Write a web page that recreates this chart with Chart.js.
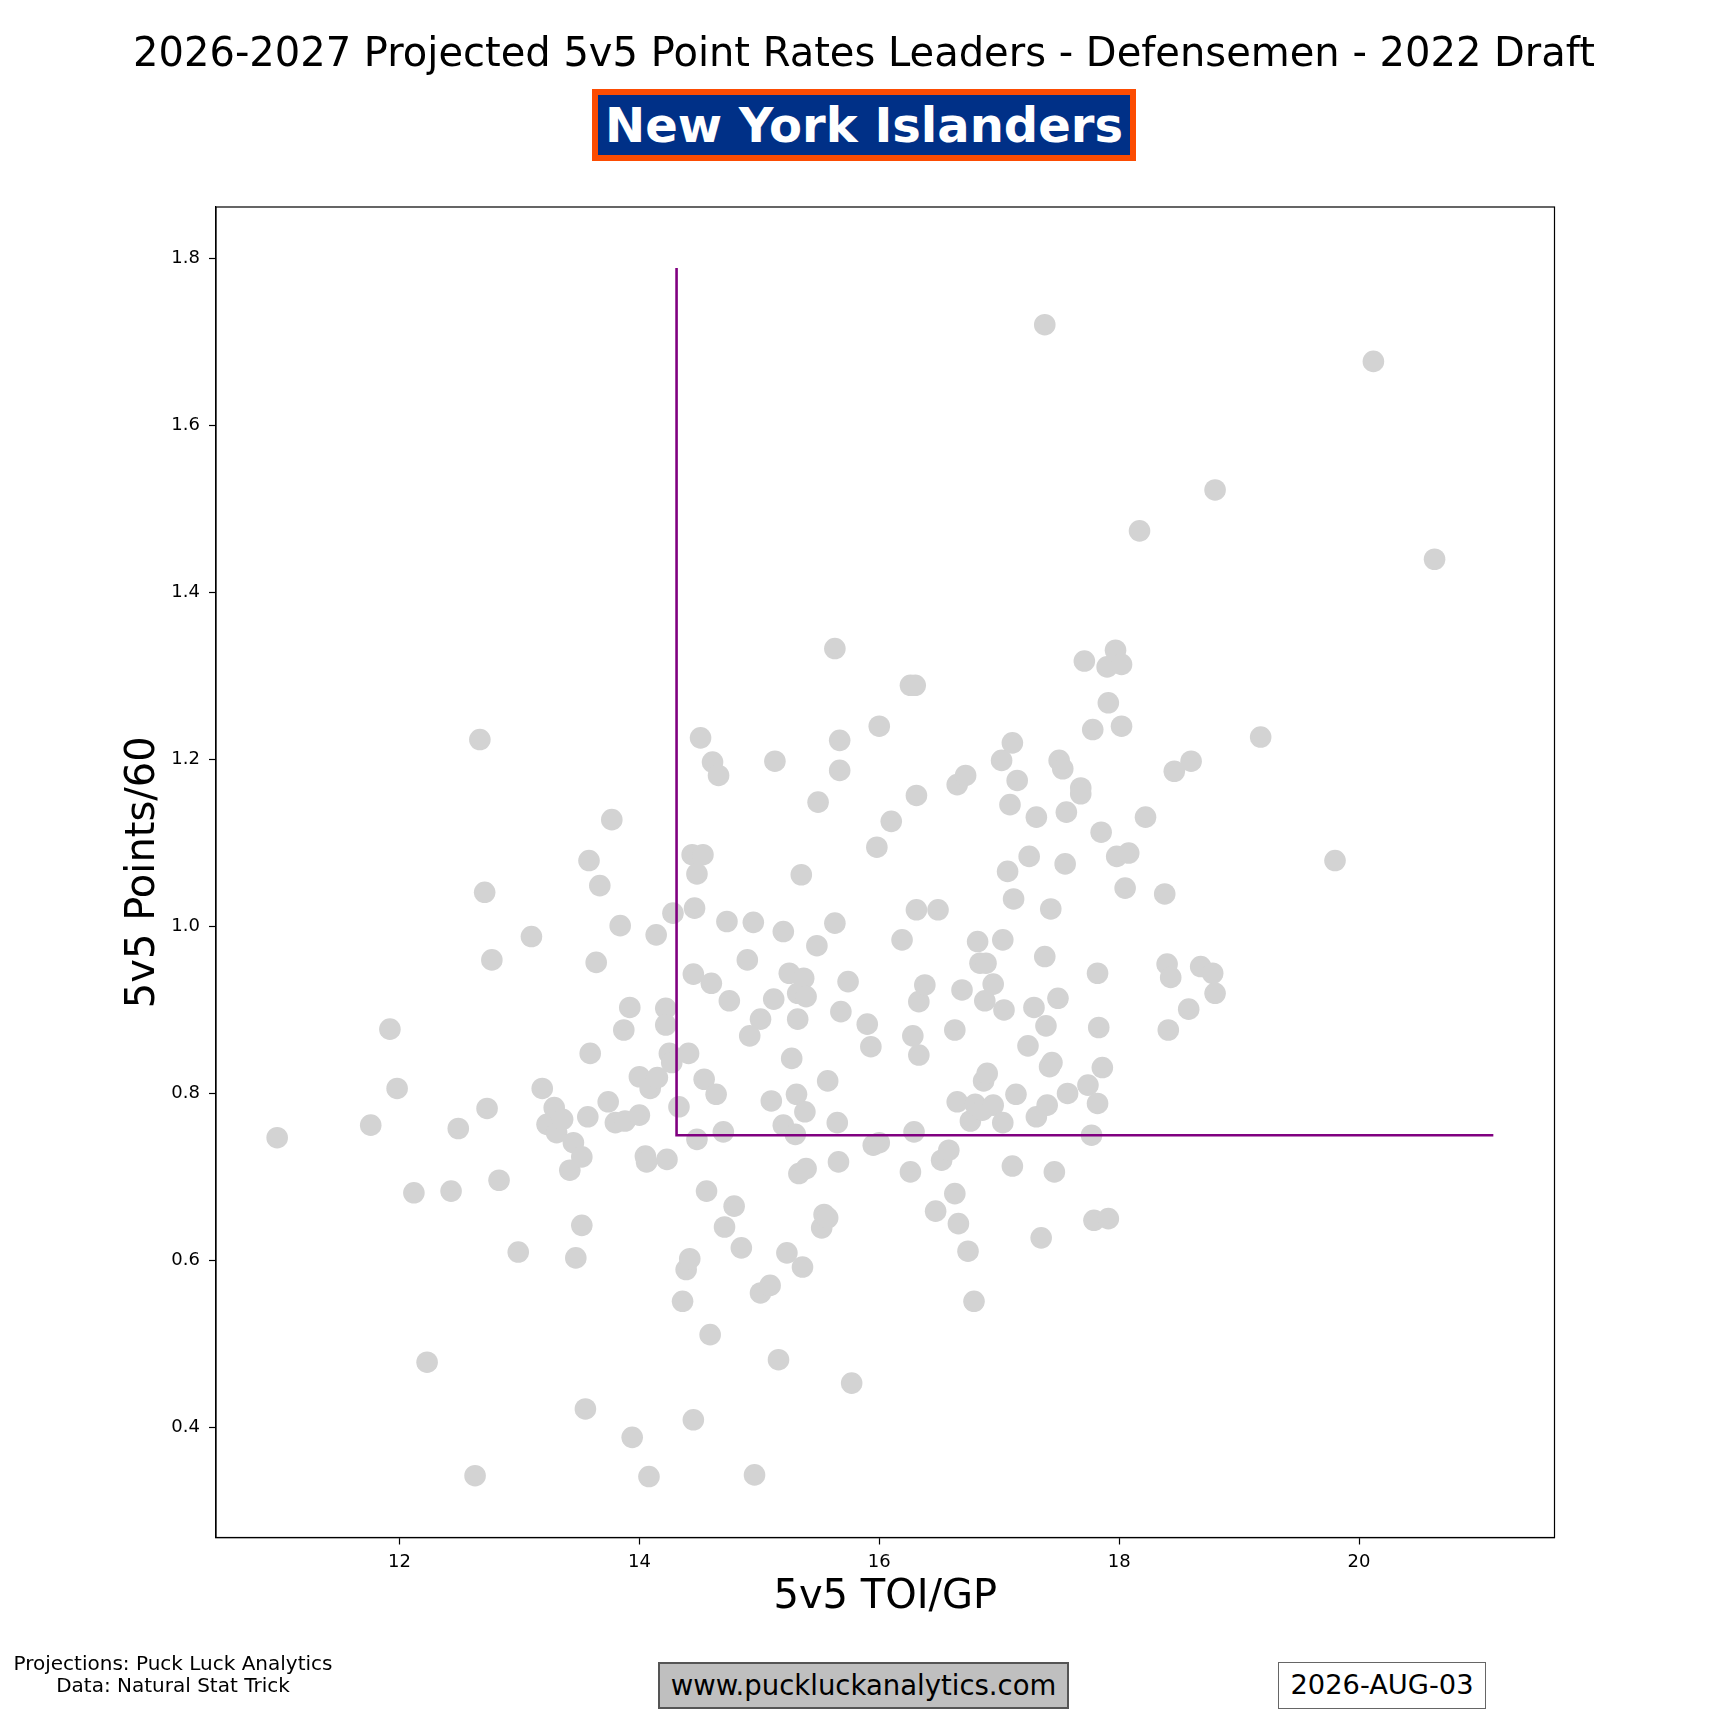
<!DOCTYPE html>
<html><head><meta charset="utf-8">
<script src="https://cdn.jsdelivr.net/npm/chart.js"></script>
<style>
html,body{margin:0;padding:0;background:#fff;}
#wrap{position:relative;width:1728px;height:1728px;font-family:"DejaVu Sans",sans-serif;overflow:hidden;}
#c{position:absolute;left:0;top:0;}
.t{position:absolute;white-space:nowrap;color:#000;box-sizing:border-box;}
</style></head><body>
<div id="wrap">
<canvas id="c" width="1728" height="1728"></canvas>
<div class="t" style="left:0;width:1728px;top:28px;text-align:center;font-size:40px;line-height:48px;">2026-2027 Projected 5v5 Point Rates Leaders - Defensemen - 2022 Draft</div>
<div class="t" style="left:592px;top:89px;width:544px;height:72px;border:6px solid #FC4C02;background:#003087;color:#fff;font-weight:bold;font-size:48px;line-height:60px;text-align:center;">New York Islanders</div>
<div class="t" style="left:0;width:346px;top:1652px;text-align:center;font-size:20px;line-height:22px;">Projections: Puck Luck Analytics<br>Data: Natural Stat Trick</div>
<div class="t" style="left:658px;top:1662px;width:411px;height:47px;background:#bfbfbf;border:2px solid #555;text-align:center;font-size:27.5px;line-height:43px;">www.puckluckanalytics.com</div>
<div class="t" style="left:1278px;top:1662px;width:208px;height:47px;background:#fff;border:1.5px solid #666;text-align:center;font-size:27.3px;line-height:44px;">2026-AUG-03</div>
</div>
<script>
// 5v5 TOI per game (x) and 5v5 points per 60 (y)
const toi = [
10.98,11.76,11.92,11.98,12.12,12.23,12.43,12.49,12.63,12.67,12.71,12.73,12.77,12.83,12.99,13.10,13.19,13.23,13.29,13.31,
13.36,13.42,13.45,13.47,13.52,13.52,13.55,13.57,13.58,13.59,13.64,13.67,13.74,13.77,13.80,13.84,13.87,13.88,13.92,13.94,
14.00,14.00,14.05,14.06,14.08,14.09,14.14,14.15,14.22,14.22,14.23,14.25,14.27,14.28,14.33,
14.36,14.39,14.42,14.41,14.44,14.45,14.46,14.45,14.48,14.48,14.51,14.53,14.54,14.56,14.59,14.60,14.61,14.64,14.66,14.70,
14.71,14.73,14.75,14.79,14.85,14.90,14.92,14.95,14.96,15.01,15.01,15.09,15.10,15.12,15.13,15.16,15.20,15.20,15.23,15.25,
15.27,15.30,15.31,15.32,15.33,15.32,15.35,15.36,15.37,15.38,15.39,15.39,15.48,15.49,15.52,15.54,15.57,15.57,15.63,15.63,
15.65,15.66,15.67,15.67,15.68,15.74,15.77,15.90,15.93,15.95,15.98,16.00,16.00,16.10,16.19,16.26,16.26,16.28,16.29,16.30,
16.31,16.31,16.33,16.33,16.38,16.47,16.49,16.52,16.58,16.63,16.63,16.65,16.65,16.66,16.69,16.72,16.74,16.76,16.79,16.80,
16.86,16.82,16.84,16.87,16.88,16.89,16.90,16.95,16.95,
17.02,17.03,17.03,17.04,17.07,17.09,17.11,17.11,17.12,17.15,17.14,17.24,17.25,17.29,17.31,17.31,17.35,17.38,17.38,17.39,
17.40,17.42,17.43,17.44,17.46,17.49,17.50,17.53,17.55,17.56,17.57,17.68,17.68,17.71,17.74,17.77,17.78,17.79,17.82,17.82,
17.83,17.85,17.86,17.90,17.91,17.91,17.97,17.98,18.02,18.02,18.05,18.08,18.17,18.22,18.38,18.40,18.41,18.43,18.46,18.58,
18.60,18.68,18.78,18.80,18.80,19.18,19.80,20.12,20.63
];
const pts60 = [
0.747,0.762,0.877,0.806,0.681,0.478,0.683,0.758,0.342,1.224,1.041,0.782,0.960,0.696,0.610,0.988,0.806,0.763,0.783,0.753,
0.769,0.708,0.741,0.603,0.724,0.642,0.422,0.772,1.079,0.848,0.957,1.049,0.790,1.128,0.765,1.001,0.876,0.767,0.903,0.388,
0.774,0.820,0.725,0.718,0.341,0.806,0.990,0.819,0.902,0.882,0.721,0.848,0.837,1.016,0.784,
0.551,0.589,0.602,0.848,1.086,0.943,1.022,0.409,1.063,0.745,1.226,1.086,0.817,0.683,0.511,0.932,1.197,0.799,1.181,0.754,
0.640,1.006,0.911,0.665,0.615,0.960,0.869,1.005,0.343,0.561,0.889,0.570,0.791,0.913,1.198,0.481,0.994,0.762,0.609,0.944,
0.842,0.751,0.799,0.889,0.704,0.920,1.062,0.592,0.938,0.778,0.916,0.710,0.977,1.149,0.639,0.655,0.651,0.815,1.333,1.004,
0.765,0.718,1.223,1.187,0.898,0.934,0.453,0.883,0.856,0.738,1.095,1.240,0.741,1.126,0.984,1.289,0.706,0.869,0.754,1.289,
1.157,1.020,0.910,0.846,0.930,0.659,1.020,0.720,0.732,0.680,0.876,1.170,0.790,0.644,0.924,1.181,0.611,0.767,0.551,0.787,
0.780,0.982,0.956,0.815,0.911,0.956,0.824,0.931,0.786,
1.199,0.984,0.765,0.900,1.066,1.146,1.220,0.713,1.033,1.175,0.799,0.857,1.084,0.903,1.131,0.772,0.627,1.721,0.964,0.881,
0.786,0.832,1.021,0.837,0.706,0.914,1.199,1.189,1.075,1.137,0.800,1.166,1.159,1.318,0.810,0.750,1.236,0.648,0.944,0.788,
0.879,1.113,0.831,1.311,1.268,0.650,1.331,1.084,1.314,1.240,1.046,1.088,1.474,1.131,1.039,0.955,0.876,0.939,1.186,0.901,
1.198,0.952,0.944,0.920,1.523,1.227,1.079,1.677,1.440
];
// threshold guide line (median TOI / points rate)
const guideX = [14.31, 14.31, 21.12];
const guideY = [1.789, 0.75, 0.75];
const xTicks = [12, 14, 16, 18, 20];
const yTicks = [0.4, 0.6, 0.8, 1.0, 1.2, 1.4, 1.6, 1.8];
const xLimits = [10.47, 21.63];
const yLimits = [0.268, 1.862];

const frame = {
  id: 'frame',
  afterDatasetsDraw(chart) {
    const {ctx, chartArea: a} = chart;
    ctx.save();
    ctx.strokeStyle = '#000';
    ctx.lineWidth = 1.2;
    ctx.strokeRect(a.left, a.top, a.right - a.left, a.bottom - a.top);
    ctx.restore();
  }
};

const font = 'DejaVu Sans';
new Chart(document.getElementById('c'), {
  type: 'scatter',
  data: {
    datasets: [
      {
        data: guideX.map((x, i) => ({x: x, y: guideY[i]})),
        showLine: true, borderColor: '#800080', borderWidth: 2.6,
        pointRadius: 0, pointHoverRadius: 0, fill: false, tension: 0, order: 0
      },
      {
        data: toi.map((x, i) => ({x: x, y: pts60[i]})),
        backgroundColor: '#d3d3d3', borderWidth: 0,
        pointRadius: 10.8, pointHoverRadius: 10.8, order: 1
      }
    ]
  },
  options: {
    responsive: false, animation: false, devicePixelRatio: 1,
    events: [],
    layout: {padding: {top: 207, right: 173.5, left: 0, bottom: 0}},
    plugins: {legend: {display: false}, tooltip: {enabled: false}},
    scales: {
      x: {
        type: 'linear', min: xLimits[0], max: xLimits[1],
        afterBuildTicks: s => { s.ticks = xTicks.map(v => ({value: v})); },
        afterFit: s => { s.height = 190.5; },
        grid: {drawOnChartArea: false, drawTicks: true, tickLength: 7, tickWidth: 1.2, tickColor: '#000'},
        border: {display: true, color: '#000', width: 1.2},
        ticks: {color: '#000', font: {family: font, size: 18}, padding: 7, maxRotation: 0, callback: v => String(v)},
        title: {display: true, text: '5v5 TOI/GP', color: '#000', font: {family: font, size: 40}, padding: {top: 0, bottom: 106}}
      },
      y: {
        type: 'linear', min: yLimits[0], max: yLimits[1],
        afterBuildTicks: s => { s.ticks = yTicks.map(v => ({value: v})); },
        afterFit: s => { s.width = 216; },
        grid: {drawOnChartArea: false, drawTicks: true, tickLength: 7, tickWidth: 1.2, tickColor: '#000'},
        border: {display: true, color: '#000', width: 1.2},
        ticks: {color: '#000', font: {family: font, size: 18}, padding: 9, callback: v => Number(v).toFixed(1)},
        title: {display: true, text: '5v5 Points/60', color: '#000', font: {family: font, size: 40}, padding: {top: 120, bottom: 0}}
      }
    }
  },
  plugins: [frame]
});
</script>
</body></html>
